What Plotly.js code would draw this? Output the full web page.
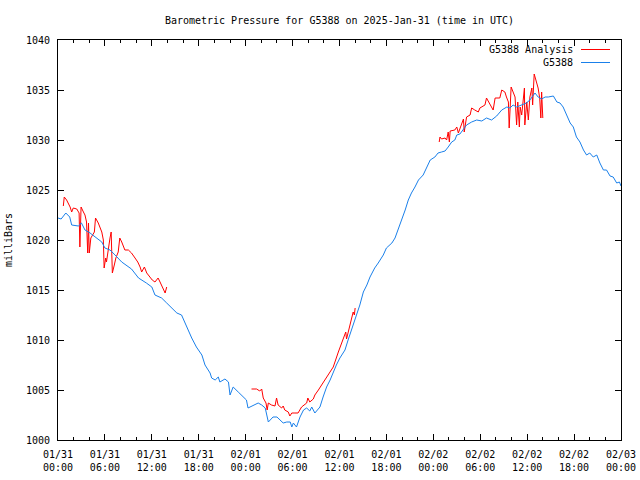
<!DOCTYPE html>
<html>
<head>
<meta charset="utf-8">
<script src="https://cdn.plot.ly/plotly-3.0.1.min.js"></script>
<style>html,body{margin:0;padding:0;background:#fff;}#chart{width:640px;height:480px;}</style>
</head>
<body>
<div id="chart"></div>
<script>
// Hours since 2025-01-31 00:00 UTC
const stationHours = [0,0.4,1.0,1.5,1.75,2.6,3.0,3.45,4.1,4.95,5.6,6.0,6.65,7.3,8.15,9.4,10.3,11.3,12.0,12.4,13.25,13.9,15.2,15.8,16.45,17.1,17.7,18.4,18.8,19.45,19.65,20.1,20.5,20.7,21.35,21.8,22.0,22.4,23.05,23.7,24.1,24.3,25.0,25.6,26.05,26.5,26.9,27.5,28.0,28.4,28.8,29.25,29.7,29.9,30.1,30.5,30.7,30.95,31.4,31.8,32.2,32.45,32.85,33.3,33.5,33.9,34.35,34.8,35.2,35.6,36.05,36.7,37.1,37.75,38.2,38.6,39.05,39.5,39.9,40.5,40.95,41.6,42.0,42.7,43.1,43.5,43.95,44.4,44.8,45.2,45.65,46.1,46.7,47.15,47.6,48.2,48.6,49.05,49.5,49.9,50.35,50.75,51.0,51.4,51.8,52.25,52.9,53.55,54.2,54.8,55.45,56.1,56.75,57.4,57.8,58.2,58.65,59.3,59.9,60.35,61.0,61.4,61.85,62.3,62.7,63.35,63.8,64.2,64.6,65.05,65.5,65.9,66.3,66.75,67.2,67.6,68.0,68.45,68.9,69.3,69.75,70.15,70.6,71.0,71.45,71.8,72.0];
const stationPressure = [1022.2,1022.1,1022.7,1022.3,1021.5,1021.4,1021.7,1021.0,1020.7,1020.2,1019.8,1019.2,1019.0,1018.5,1017.8,1017.1,1016.2,1015.7,1015.3,1014.5,1014.2,1013.7,1012.7,1012.5,1011.3,1010.2,1009.3,1008.5,1007.5,1006.7,1006.2,1006.0,1006.3,1005.8,1006.1,1005.8,1004.5,1005.3,1004.8,1004.3,1004.0,1003.2,1003.5,1003.7,1003.5,1003.2,1001.8,1002.3,1002.3,1002.0,1001.7,1001.8,1001.8,1001.3,1001.7,1001.3,1001.8,1002.3,1003.0,1003.2,1002.9,1003.3,1002.7,1003.2,1003.3,1004.3,1005.3,1006.0,1006.8,1007.5,1008.2,1009.0,1010.0,1011.5,1012.7,1013.5,1014.8,1015.5,1016.3,1017.2,1017.7,1018.5,1019.2,1019.7,1020.2,1021.0,1022.0,1023.0,1024.0,1024.7,1025.3,1026.0,1026.5,1027.3,1028.0,1028.3,1028.7,1028.8,1028.9,1029.3,1029.8,1030.0,1030.5,1030.6,1031.0,1031.5,1031.8,1032.0,1031.9,1032.2,1032.0,1032.4,1033.0,1033.3,1033.2,1033.5,1033.3,1033.5,1033.7,1034.0,1034.7,1034.3,1034.1,1034.3,1034.3,1034.4,1033.8,1033.7,1033.3,1032.5,1031.7,1031.3,1030.3,1029.8,1029.0,1028.5,1028.7,1028.3,1028.5,1027.7,1027.0,1027.0,1026.4,1026.3,1025.7,1025.8,1025.4];

const analysisHours = [0.68,0.8,1.1,1.3,1.55,1.75,1.95,2.4,2.7,2.8,2.95,3.25,3.45,3.65,3.8,3.9,4.0,4.2,4.4,4.65,4.8,5.15,5.6,5.8,5.9,6.1,6.2,6.45,6.65,6.8,6.95,7.2,7.4,7.7,7.9,8.15,8.55,9.0,9.4,9.85,10.2,10.5,10.7,11.05,11.35,11.75,12.05,12.4,12.8,13.05,13.45,13.7,13.9,
  null,
  24.75,25.4,25.8,26.05,26.25,26.6,26.75,26.9,27.3,27.75,27.95,28.15,28.6,28.8,29.0,29.45,29.65,29.9,30.3,30.7,31.15,31.8,31.95,32.2,32.65,32.85,33.3,33.9,34.55,35.2,35.85,36.05,36.5,36.8,36.9,37.35,37.75,37.9,38.0,
  null,
  48.75,48.85,49.05,49.5,49.7,49.9,50.05,50.15,50.75,51.0,51.2,51.6,51.85,51.95,52.25,52.7,52.9,53.3,53.75,53.95,54.6,54.8,55.25,55.65,55.9,56.5,56.75,57.15,57.35,57.6,57.7,57.95,58.2,58.45,58.65,58.8,59.0,59.1,59.3,59.5,59.65,59.7,59.95,60.15,60.35,60.6,60.7,60.9,61.2,61.4,61.6,61.75,61.85,62.0];
const analysisPressure = [1023.4,1024.3,1024.0,1023.7,1023.3,1022.8,1023.2,1023.1,1022.7,1019.3,1023.3,1022.8,1022.5,1021.8,1018.7,1021.7,1018.7,1020.2,1020.5,1020.8,1022.2,1021.7,1020.8,1020.0,1017.2,1018.2,1017.8,1019.5,1020.2,1020.8,1016.7,1017.5,1018.2,1018.8,1020.2,1019.8,1019.0,1019.0,1018.7,1018.2,1017.8,1017.3,1016.8,1017.3,1016.7,1016.3,1016.0,1015.8,1016.2,1015.8,1015.2,1014.7,1015.3,
  null,
  1005.1,1005.1,1004.9,1005.1,1004.2,1003.7,1003.0,1003.7,1003.5,1003.4,1004.2,1003.5,1003.2,1003.4,1003.0,1002.8,1002.4,1002.7,1002.7,1002.7,1003.3,1003.7,1004.2,1003.8,1004.1,1004.5,1005.0,1005.7,1006.5,1007.3,1008.8,1009.2,1010.0,1010.8,1010.1,1011.7,1012.8,1012.5,1013.2,
  null,
  1029.8,1030.3,1030.1,1030.2,1030.0,1030.8,1029.8,1030.9,1031.0,1031.3,1030.7,1031.7,1032.1,1030.8,1032.3,1032.5,1033.2,1033.0,1032.8,1033.2,1033.5,1034.2,1033.5,1033.0,1034.2,1034.2,1035.0,1034.8,1034.3,1033.8,1031.2,1035.3,1034.8,1034.3,1031.5,1033.8,1031.3,1033.3,1032.5,1034.5,1035.2,1031.5,1033.8,1032.0,1034.3,1035.2,1033.5,1036.6,1035.8,1035.2,1034.2,1032.2,1034.8,1032.2];

const tickHours = [0,6,12,18,24,30,36,42,48,54,60,66,72];
const tickLabels = ["01/31<br>00:00","01/31<br>06:00","01/31<br>12:00","01/31<br>18:00","02/01<br>00:00","02/01<br>06:00","02/01<br>12:00","02/01<br>18:00","02/02<br>00:00","02/02<br>06:00","02/02<br>12:00","02/02<br>18:00","02/03<br>00:00"];
const seriesNames = ["G5388 Analysis","G5388"];
const seriesColors = ["#ff0000","#1a80ea"];

const FONT = "DejaVu Sans Mono, Liberation Mono, monospace";

const traces = [
  {x: analysisHours, y: analysisPressure, type: "scatter", mode: "lines", name: seriesNames[0],
   line: {color: seriesColors[0], width: 1}, connectgaps: false, showlegend: false},
  {x: stationHours, y: stationPressure, type: "scatter", mode: "lines", name: seriesNames[1],
   line: {color: seriesColors[1], width: 1}, showlegend: false}
];

const axisCommon = {
  showgrid: false, zeroline: false, showline: true, linecolor: "#000", linewidth: 1,
  mirror: "allticks", ticks: "inside", tickcolor: "#000", tickwidth: 1,
  tickfont: {family: FONT, size: 10, color: "#000"}
};

const layout = {
  width: 640, height: 480,
  margin: {l: 58, r: 19, t: 40, b: 40, pad: 0},
  paper_bgcolor: "#fff", plot_bgcolor: "#fff",
  font: {family: FONT, size: 10, color: "#000"},
  title: {text: "Barometric Pressure for G5388 on 2025-Jan-31 (time in UTC)",
          font: {family: FONT, size: 10, color: "#000"},
          x: 0.5, xref: "paper", xanchor: "center", y: 1 - 20/480, yref: "container", yanchor: "middle"},
  xaxis: Object.assign({}, axisCommon, {
    range: [0, 72], tickmode: "array", tickvals: tickHours, ticktext: tickLabels, ticklen: 6,
    minor: {dtick: 2, tick0: 0, ticks: "inside", ticklen: 3, tickcolor: "#000", showgrid: false},
    ticklabelstandoff: 5
  }),
  yaxis: Object.assign({}, axisCommon, {
    range: [1000, 1040], dtick: 5, tick0: 1000, ticklen: 6,
    title: {text: "milliBars", font: {family: FONT, size: 10, color: "#000"}, standoff: 11},
    ticklabelstandoff: 5
  }),
  showlegend: false,
  shapes: [
    {type: "line", xref: "paper", yref: "paper", x0: (581-58)/563, x1: (610-58)/563, y0: (440-49.5)/400, y1: (440-49.5)/400, line: {color: seriesColors[0], width: 1}},
    {type: "line", xref: "paper", yref: "paper", x0: (581-58)/563, x1: (610-58)/563, y0: (440-62.5)/400, y1: (440-62.5)/400, line: {color: seriesColors[1], width: 1}}
  ],
  annotations: [
    {text: seriesNames[0], xref: "paper", yref: "paper", x: (575-58)/563, y: (440-49.5)/400, xanchor: "right", yanchor: "middle", showarrow: false, font: {family: FONT, size: 10, color: "#000"}},
    {text: seriesNames[1], xref: "paper", yref: "paper", x: (575-58)/563, y: (440-62.5)/400, xanchor: "right", yanchor: "middle", showarrow: false, font: {family: FONT, size: 10, color: "#000"}}
  ]
};

Plotly.newPlot("chart", traces, layout, {staticPlot: true, displayModeBar: false});
</script>
</body>
</html>
